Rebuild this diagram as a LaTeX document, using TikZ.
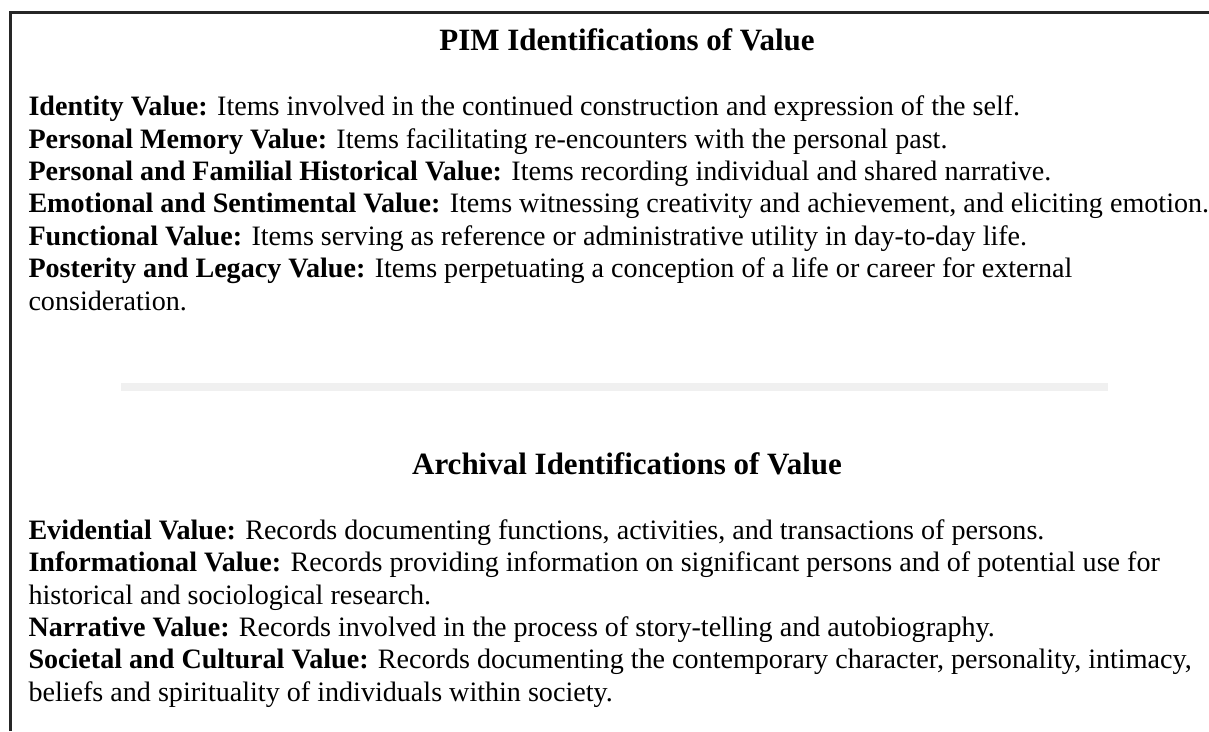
\documentclass[tikz,border=0pt]{standalone}
\usepackage{fontspec}
\setmainfont{Liberation Serif}
\begin{document}
\begin{tikzpicture}[x=1pt,y=-1pt,
  body/.style={anchor=base west, inner sep=0pt, font=\fontsize{28.1}{32.4}\selectfont},
  heading/.style={anchor=base, inner sep=0pt, font=\fontsize{31}{34}\selectfont\bfseries},
  frameline/.style={line width=3.5pt, black!85},
  separator/.style={fill=black!6}]
\fill[white] (0,0) rectangle (1209,731);
\useasboundingbox (0,0) rectangle (1209,731);
\draw[frameline] (10.5,731) -- (10.5,12.5) -- (1209,12.5);
\fill[separator] (121,383) rectangle (1108,391);

\node[heading] (t1) at (627,50.5) {PIM Identifications of Value};
\node[body] (p1) at (28.3,115.7) {\textbf{Identity Value:} Items involved in the continued construction and expression of the self.};
\node[body] (p2) at (28.3,148.1) {\textbf{Personal Memory Value:} Items facilitating re-encounters with the personal past.};
\node[body] (p3) at (28.3,180.5) {\textbf{Personal and Familial Historical Value:} Items recording individual and shared narrative.};
\node[body] (p4) at (28.3,212.9) {\textbf{Emotional and Sentimental Value:} Items witnessing creativity and achievement, and eliciting emotion.};
\node[body] (p5) at (28.3,245.3) {\textbf{Functional Value:} Items serving as reference or administrative utility in day-to-day life.};
\node[body] (p6) at (28.3,277.7) {\textbf{Posterity and Legacy Value:} Items perpetuating a conception of a life or career for external};
\node[body] (p7) at (28.3,310.1) {consideration.};

\node[heading] (t2) at (627,474) {Archival Identifications of Value};
\node[body] (a1) at (28.3,539.3) {\textbf{Evidential Value:} Records documenting functions, activities, and transactions of persons.};
\node[body] (a2) at (28.3,571.7) {\textbf{Informational Value:} Records providing information on significant persons and of potential use for};
\node[body] (a3) at (28.3,604.1) {historical and sociological research.};
\node[body] (a4) at (28.3,636.5) {\textbf{Narrative Value:} Records involved in the process of story-telling and autobiography.};
\node[body] (a5) at (28.3,668.9) {\textbf{Societal and Cultural Value:} Records documenting the contemporary character, personality, intimacy,};
\node[body] (a6) at (28.3,701.3) {beliefs and spirituality of individuals within society.};
\end{tikzpicture}
\end{document}
